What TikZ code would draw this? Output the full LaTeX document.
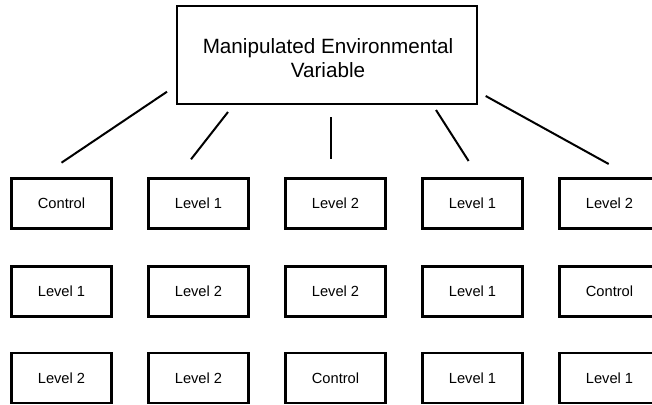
\documentclass[tikz,border=0pt]{standalone}
\usepackage{fontspec}
\setmainfont{Liberation Sans}
\begin{document}
\begin{tikzpicture}[x=0.75pt,y=-0.75pt,
  topbox/.style={draw=black,line width=1.6pt,minimum width=300*0.75pt,minimum height=98*0.75pt,inner sep=0pt,fill=white},
  cell/.style={draw=black,line width=1.6pt,minimum width=100*0.75pt,minimum height=50*0.75pt,inner sep=0pt,font=\fontsize{11}{13}\selectfont},
  link/.style={line width=1.5pt}]
\useasboundingbox (0,0) rectangle (652,404);
\clip (0,0) rectangle (652,404);
\node[topbox] (top) at (327,55) {};
\node[align=center,font=\fontsize{15.5}{18}\selectfont] (toptext) at (328,58.5) {Manipulated Environmental\\Variable};
\node[cell] (a1) at (61.5,203.5) {Control};
\node[cell] (a2) at (198.5,203.5) {Level 1};
\node[cell] (a3) at (335.5,203.5) {Level 2};
\node[cell] (a4) at (472.5,203.5) {Level 1};
\node[cell] (a5) at (609.5,203.5) {Level 2};
\node[cell] (b1) at (61.5,291.5) {Level 1};
\node[cell] (b2) at (198.5,291.5) {Level 2};
\node[cell] (b3) at (335.5,291.5) {Level 2};
\node[cell] (b4) at (472.5,291.5) {Level 1};
\node[cell] (b5) at (609.5,291.5) {Control};
\node[cell] (c1) at (61.5,378) {Level 2};
\node[cell] (c2) at (198.5,378) {Level 2};
\node[cell] (c3) at (335.5,378) {Control};
\node[cell] (c4) at (472.5,378) {Level 1};
\node[cell] (c5) at (609.5,378) {Level 1};
% connectors
\coordinate (s1) at (167,91.7);   \coordinate (e1) at (61.5,162.7);
\coordinate (s2) at (228,112);    \coordinate (e2) at (191,159.3);
\coordinate (s3) at (330.5,117.3);\coordinate (e3) at (330.5,159.3);
\coordinate (s4) at (436,110);    \coordinate (e4) at (468.6,161);
\coordinate (s5) at (485.7,96);   \coordinate (e5) at (608.7,164);
\draw[link] (s1) -- (e1);
\draw[link] (s2) -- (e2);
\draw[link] (s3) -- (e3);
\draw[link] (s4) -- (e4);
\draw[link] (s5) -- (e5);
\end{tikzpicture}
\end{document}
